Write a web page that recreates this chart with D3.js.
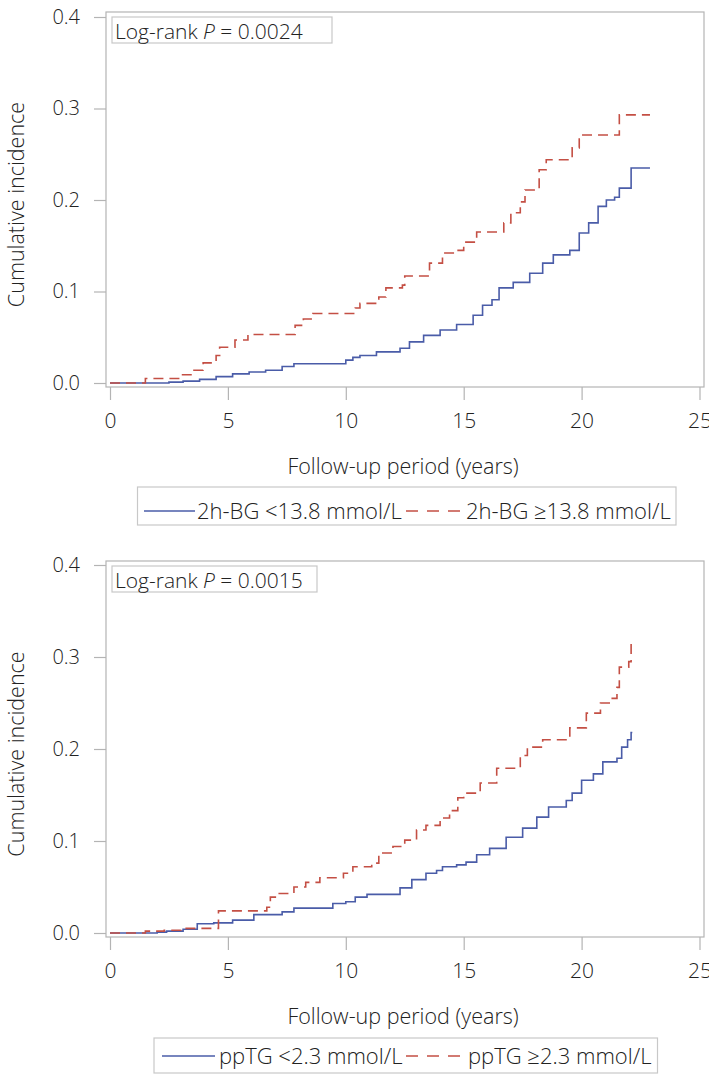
<!DOCTYPE html>
<html>
<head>
<meta charset="utf-8">
<script src="https://cdn.jsdelivr.net/npm/d3@7"></script>
<style>
  html, body { margin: 0; padding: 0; background: #fff; }
  svg text { font-family: "Open Sans", "Noto Sans", sans-serif; font-weight: 300; fill: #222; }
</style>
</head>
<body>
<svg id="chart" width="709" height="1075"></svg>
<script>
// ---------- Data ----------
const xTicks = [0, 5, 10, 15, 20, 25];
const yTicks = [0, 0.1, 0.2, 0.3, 0.4];
const xTitle = "Follow-up period (years)";
const yTitle = "Cumulative incidence";

// Panel 1: 2h-BG
const bgLowTimes = [0, 2.5, 3.1, 3.8, 4.5, 5.2, 5.9, 6.6, 7.3, 7.8, 10.0, 10.3, 10.6, 11.3, 12.3, 12.7, 13.3, 14.0, 14.7, 15.4, 15.8, 16.2, 16.5, 17.1, 17.8, 18.35, 18.8, 19.5, 19.9, 20.3, 20.7, 21.05, 21.4, 21.6, 22.1, 22.9];
const bgLowCum   = [0, 0.001, 0.002, 0.004, 0.007, 0.010, 0.012, 0.014, 0.018, 0.021, 0.025, 0.028, 0.030, 0.034, 0.038, 0.045, 0.052, 0.058, 0.064, 0.074, 0.085, 0.091, 0.104, 0.110, 0.120, 0.131, 0.140, 0.145, 0.164, 0.175, 0.193, 0.200, 0.203, 0.213, 0.235, 0.235];
const bgHighTimes = [0, 1.5, 3.0, 3.5, 3.95, 4.5, 4.65, 5.3, 5.85, 7.85, 8.2, 8.6, 10.4, 10.6, 11.4, 11.7, 12.4, 12.5, 13.55, 14.1, 14.7, 15.0, 15.55, 16.7, 17.0, 17.4, 17.6, 18.2, 18.5, 19.6, 19.9, 21.6, 22.9];
const bgHighCum   = [0, 0.005, 0.009, 0.014, 0.022, 0.030, 0.039, 0.047, 0.053, 0.063, 0.070, 0.076, 0.082, 0.087, 0.094, 0.104, 0.107, 0.117, 0.131, 0.142, 0.145, 0.154, 0.165, 0.175, 0.186, 0.198, 0.211, 0.233, 0.244, 0.257, 0.271, 0.293, 0.293];
const bgLabels = ["2h-BG <13.8 mmol/L", "2h-BG \u226513.8 mmol/L"];
const bgPText = "0.0024";

// Panel 2: ppTG
const tgLowTimes = [0, 2.0, 2.4, 3.1, 3.7, 4.4, 5.2, 6.1, 7.3, 7.8, 9.45, 10.0, 10.4, 10.9, 12.3, 12.8, 13.4, 13.85, 14.1, 14.7, 15.1, 15.55, 16.1, 16.8, 17.5, 18.1, 18.6, 19.35, 19.6, 20.0, 20.5, 20.9, 21.5, 21.7, 21.95, 22.1, 22.15];
const tgLowCum   = [0, 0.001, 0.002, 0.004, 0.010, 0.011, 0.014, 0.020, 0.023, 0.027, 0.032, 0.034, 0.039, 0.042, 0.049, 0.058, 0.065, 0.068, 0.072, 0.074, 0.077, 0.085, 0.092, 0.104, 0.114, 0.126, 0.137, 0.144, 0.152, 0.166, 0.173, 0.186, 0.190, 0.202, 0.210, 0.218, 0.218];
const tgHighTimes = [0, 1.5, 2.3, 3.0, 4.6, 6.65, 6.8, 7.05, 7.8, 8.3, 8.9, 9.9, 10.3, 11.1, 11.4, 12.0, 12.5, 13.0, 13.4, 14.0, 14.4, 14.75, 15.0, 15.7, 16.4, 17.4, 17.7, 18.35, 19.5, 20.2, 20.8, 21.3, 21.5, 21.6, 22.0, 22.1, 22.15];
const tgHighCum   = [0, 0.002, 0.003, 0.005, 0.024, 0.028, 0.039, 0.043, 0.050, 0.055, 0.060, 0.065, 0.072, 0.076, 0.087, 0.094, 0.101, 0.112, 0.117, 0.125, 0.133, 0.147, 0.152, 0.163, 0.179, 0.193, 0.202, 0.210, 0.223, 0.239, 0.250, 0.255, 0.267, 0.289, 0.295, 0.315, 0.315];
const tgLabels = ["ppTG <2.3 mmol/L", "ppTG \u22652.3 mmol/L"];
const tgPText = "0.0015";

// ---------- Styles ----------
const BLUE = "#4a5ca8";
const RED = "#c44f44";
const GREY = "#b4b4b4";

const svg = d3.select("#chart");

function zip(t, v) { return t.map((d, i) => ({ t: d, v: v[i] })); }

function panel(cfg) {
  const g = svg.append("g");
  const x = d3.scaleLinear().domain([0, 25]).range([110, 699.5]);
  const y = d3.scaleLinear().domain([0, 0.4]).range([cfg.y0, cfg.y0 - cfg.unit * 0.4]);
  const frame = { l: 106, r: 704, t: cfg.frameTop, b: cfg.frameBottom };

  // frame
  g.append("rect")
    .attr("x", frame.l).attr("y", frame.t)
    .attr("width", frame.r - frame.l).attr("height", frame.b - frame.t)
    .attr("fill", "none").attr("stroke", GREY).attr("stroke-width", 1.2);

  // y axis
  const ya = g.append("g").attr("transform", `translate(${frame.l},0)`)
    .call(d3.axisLeft(y).tickValues(yTicks).tickFormat(d3.format(".1f")).tickSize(12).tickPadding(14));
  ya.select(".domain").remove();
  ya.selectAll(".tick line").attr("stroke", GREY).attr("stroke-width", 1.2);
  ya.selectAll(".tick text").style("font-size", "20px").attr("fill", "#222");

  // x axis
  const xa = g.append("g").attr("transform", `translate(0,${frame.b})`)
    .call(d3.axisBottom(x).tickValues(xTicks).tickFormat(d3.format("d")).tickSize(13).tickPadding(13));
  xa.select(".domain").remove();
  xa.selectAll(".tick line").attr("stroke", GREY).attr("stroke-width", 1.2);
  xa.selectAll(".tick text").style("font-size", "21px").attr("fill", "#222");

  // titles
  g.append("text").attr("x", 403).attr("y", cfg.xTitleY)
    .attr("text-anchor", "middle").style("font-size", "21.5px").text(xTitle);
  g.append("text")
    .attr("transform", `translate(24,${(frame.t + frame.b) / 2 + 5}) rotate(-90)`)
    .attr("text-anchor", "middle").style("font-size", "21.5px").text(yTitle);

  // curves
  const line = d3.line().x(d => x(d.t)).y(d => y(d.v)).curve(d3.curveStepAfter);
  g.append("path").datum(zip(cfg.lowT, cfg.lowV)).attr("d", line)
    .attr("fill", "none").attr("stroke", BLUE).attr("stroke-width", 1.6);
  g.append("path").datum(zip(cfg.highT, cfg.highV)).attr("d", line)
    .attr("fill", "none").attr("stroke", RED).attr("stroke-width", 1.6)
    .attr("stroke-dasharray", "10,6");

  // Log-rank inset
  const pBox = g.append("g");
  pBox.append("rect")
    .attr("x", 112).attr("y", cfg.pBoxTop)
    .attr("width", cfg.pBoxW).attr("height", 26)
    .attr("fill", "#fff").attr("stroke", "#c8c8c8").attr("stroke-width", 1.2);
  const pt = pBox.append("text").attr("x", 115).attr("y", cfg.pBaseline).style("font-size", "21px");
  pt.append("tspan").text("Log-rank ");
  pt.append("tspan").style("font-style", "italic").text("P");
  pt.append("tspan").text(" = " + cfg.pText);

  // legend
  const lg = g.append("g");
  const L = cfg.leg;
  lg.append("rect")
    .attr("x", L.boxL).attr("y", L.boxT)
    .attr("width", L.boxR - L.boxL).attr("height", L.boxB - L.boxT)
    .attr("fill", "#fff").attr("stroke", "#c8c8c8").attr("stroke-width", 1.2);
  lg.append("line").attr("x1", L.s1).attr("x2", L.s1e).attr("y1", L.y).attr("y2", L.y)
    .attr("stroke", BLUE).attr("stroke-width", 1.6);
  lg.append("text").attr("x", L.t1).attr("y", L.y + 7.5).style("font-size", "22px").text(cfg.labels[0]);
  lg.append("line").attr("x1", L.s2).attr("x2", L.s2 + 54).attr("y1", L.y).attr("y2", L.y)
    .attr("stroke", RED).attr("stroke-width", 1.6).attr("stroke-dasharray", "12,9");
  lg.append("text").attr("x", L.t2).attr("y", L.y + 7.5).style("font-size", "22px").text(cfg.labels[1]);
}

panel({
  y0: 383, unit: 915, frameTop: 12, frameBottom: 387,
  lowT: bgLowTimes, lowV: bgLowCum, highT: bgHighTimes, highV: bgHighCum,
  labels: bgLabels, pText: bgPText, pBaseline: 39, pBoxTop: 17, pBoxW: 220,
  xTitleY: 474,
  leg: { boxL: 137.5, boxR: 676, boxT: 487, boxB: 525, y: 511, s1: 144, s1e: 195, t1: 197, s2: 406, t2: 466 }
});

panel({
  y0: 933, unit: 920, frameTop: 561, frameBottom: 937,
  lowT: tgLowTimes, lowV: tgLowCum, highT: tgHighTimes, highV: tgHighCum,
  labels: tgLabels, pText: tgPText, pBaseline: 588, pBoxTop: 566, pBoxW: 205,
  xTitleY: 1024,
  leg: { boxL: 154, boxR: 657.5, boxT: 1038, boxB: 1073, y: 1056, s1: 162, s1e: 215, t1: 219, s2: 406, t2: 468 }
});
</script>
</body>
</html>
